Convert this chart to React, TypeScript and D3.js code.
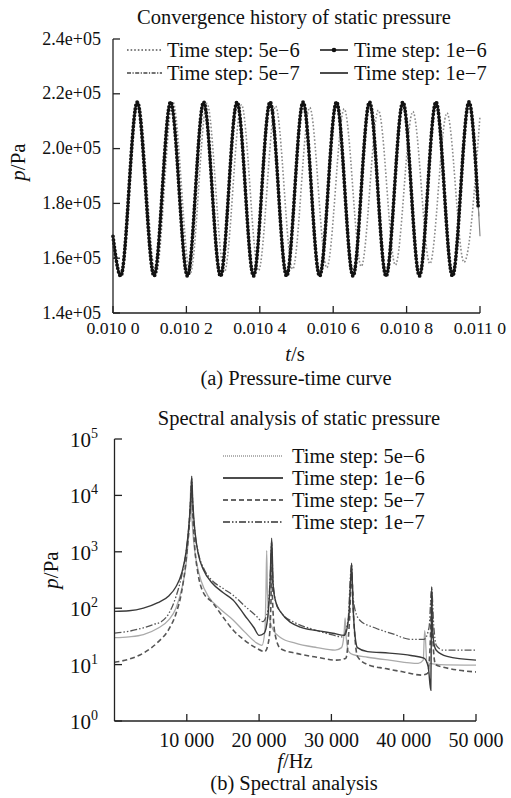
import React from 'react';
import * as d3 from 'd3';

// ---------- (a) Pressure-time curve data ----------
const T_DOMAIN = [0.0100, 0.0110];
const P_DOMAIN = [1.4e5, 2.4e5];
const T_TICKS = [0.0100, 0.0102, 0.0104, 0.0106, 0.0108, 0.0110];
const P_TICKS = [1.4e5, 1.6e5, 1.8e5, 2.0e5, 2.2e5, 2.4e5];

// time of start + successive troughs/peaks (1e-6, 5e-7, 1e-7 share these)
const T_FINE = [0.0100, 0.010021, 0.010066, 0.010112, 0.010157, 0.010203, 0.010247, 0.010293, 0.010338, 0.010383, 0.010428,
  0.010473, 0.010518, 0.010563, 0.010609, 0.010654, 0.010699, 0.010744, 0.010790, 0.010835, 0.010880, 0.010925, 0.010970];
const P_FINE = [1.68e5, 1.535e5, 2.17e5, 1.535e5, 2.17e5, 1.535e5, 2.17e5, 1.535e5, 2.17e5, 1.535e5, 2.17e5,
  1.535e5, 2.17e5, 1.535e5, 2.17e5, 1.535e5, 2.17e5, 1.535e5, 2.17e5, 1.535e5, 2.17e5, 1.535e5, 2.17e5];
const END_1E6 = [0.010995, 1.79e5];
const END_5E7 = [0.010997, 1.75e5];
const END_1E7 = [0.0110, 1.68e5];

// 5e-6: slightly longer period, damped amplitude
const T_5E6 = [0.0100, 0.0100225, 0.010069, 0.0101165, 0.010163, 0.0102105, 0.010256, 0.0103035, 0.01035, 0.0103965, 0.010443,
  0.0104895, 0.010536, 0.0105825, 0.01063, 0.0106765, 0.010723, 0.0107695, 0.010817, 0.0108635, 0.01091, 0.0109565, 0.0110];
const P_5E6 = [1.68e5, 1.535e5, 2.17e5, 1.54e5, 2.17e5, 1.545e5, 2.165e5, 1.55e5, 2.16e5, 1.555e5, 2.155e5,
  1.56e5, 2.15e5, 1.565e5, 2.145e5, 1.57e5, 2.14e5, 1.575e5, 2.135e5, 1.58e5, 2.13e5, 1.585e5, 2.12e5];

// ---------- (b) Spectral analysis data ----------
const F_DOMAIN = [0, 50000];
const A_DOMAIN = [1, 1e5];
const F_TICKS = [10000, 20000, 30000, 40000, 50000];
const A_EXPONENTS = [0, 1, 2, 3, 4, 5];

// 5e-6
const F_S1 = [0, 2000, 4000, 6000, 7500, 8500, 9300, 9900, 10250, 10450, 10550, 10650, 10900, 11400, 12000, 13000, 14500, 16400, 18000, 19700, 20400, 20800, 20950, 21050, 21150, 21400, 22000, 23000, 25000, 28000, 30500, 31400, 31750, 31900, 32050, 32400, 33000, 35000, 38000, 42000, 42700, 42900, 43000, 43200, 43600, 45000, 50000];
const A_S1 = [30, 31, 34, 44, 62, 100, 220, 600, 2000, 6000, 15000, 6000, 1800, 600, 300, 160, 100, 62, 38, 24, 22, 40, 200, 1050, 200, 70, 40, 30, 24, 20, 18, 20, 35, 67, 30, 17, 15, 13.5, 12, 10.5, 12, 40, 30, 11, 10.5, 10, 9.8];

// 1e-6
const F_S2 = [0, 2000, 4000, 6000, 7500, 8500, 9300, 9900, 10300, 10550, 10680, 10820, 11100, 11600, 12300, 13500, 15000, 16400, 18000, 19300, 20000, 20700, 21200, 21500, 21740, 21950, 22300, 23000, 25700, 28000, 30200, 31800, 32400, 32650, 32800, 32950, 33200, 33600, 35000, 38000, 41000, 42800, 43400, 43750, 43820, 43870, 43950, 44150, 44500, 46000, 50000];
const A_S2 = [88, 90, 100, 125, 165, 240, 420, 1000, 3000, 9000, 22000, 8000, 2500, 900, 480, 280, 190, 140, 75, 45, 33, 36, 70, 250, 1750, 250, 130, 85, 46, 40, 36, 33, 70, 300, 630, 150, 40, 20, 17, 16, 14.5, 13, 9, 3.5, 40, 240, 60, 25, 18, 14, 12];

// 5e-7
const F_S3 = [0, 2000, 4000, 6000, 7500, 8500, 9300, 9900, 10300, 10550, 10680, 10820, 11100, 11500, 12200, 13600, 15000, 16400, 18000, 19500, 20800, 21400, 21650, 21740, 21850, 22200, 23000, 25000, 28000, 30700, 32000, 32500, 32800, 33100, 33600, 35000, 37500, 40000, 42500, 43300, 43700, 43870, 44050, 44400, 45500, 47500, 50000];
const A_S3 = [11, 12.5, 16, 25, 42, 80, 200, 700, 2500, 8000, 15000, 5000, 1200, 450, 200, 124, 70, 41, 27, 20, 17, 30, 150, 1200, 150, 35, 19, 16, 13.5, 12, 13, 60, 400, 60, 14, 10, 8.5, 7.4, 6.5, 7, 30, 200, 25, 10, 9, 8, 7.4];

// 1e-7
const F_S4 = [0, 2000, 4000, 5500, 6500, 7500, 8500, 9300, 9900, 10300, 10550, 10680, 10820, 11100, 11600, 12300, 13500, 15000, 16400, 18000, 19500, 20500, 21200, 21550, 21740, 21900, 22300, 23000, 25000, 27500, 30000, 31500, 32300, 32650, 32800, 32950, 33300, 34000, 36000, 38500, 41000, 42800, 43500, 43870, 44150, 44500, 45500, 50000];
const A_S4 = [36, 39, 45, 52, 58, 80, 160, 380, 1000, 3000, 10000, 20000, 7000, 2400, 950, 520, 310, 225, 170, 110, 75, 58, 90, 400, 1500, 350, 130, 85, 55, 42, 34, 31, 60, 400, 600, 200, 90, 60, 45, 35, 28, 28, 45, 220, 50, 22, 18, 18];

const SERIES_LABELS = ['Time step: 5e\u22126', 'Time step: 1e\u22126', 'Time step: 5e\u22127', 'Time step: 1e\u22127'];
const TITLE_A = 'Convergence history of static pressure';
const TITLE_B = 'Spectral analysis of static pressure';
const CAPTION_A = '(a) Pressure-time curve';
const CAPTION_B = '(b) Spectral analysis';

const FONT = '"Liberation Serif", "Times New Roman", Times, serif';

function zip(xs: number[], ys: number[]): [number, number][] {
  return xs.map((x, i) => [x, ys[i]] as [number, number]);
}

export default function App() {
  // ----- chart (a) -----
  const xA = d3.scaleLinear().domain(T_DOMAIN).range([113, 480]);
  const yA = d3.scaleLinear().domain(P_DOMAIN).range([313, 39]);
  const lineA = d3.line<[number, number]>().x(d => xA(d[0])).y(d => yA(d[1])).curve(d3.curveMonotoneX);

  const s5e6 = lineA(zip(T_5E6, P_5E6)) || '';
  const s1e6 = lineA([...zip(T_FINE, P_FINE), END_1E6 as [number, number]]) || '';
  const s5e7 = lineA([...zip(T_FINE, P_FINE), END_5E7 as [number, number]]) || '';
  const s1e7 = lineA([...zip(T_FINE, P_FINE), END_1E7 as [number, number]]) || '';

  const fmtT = (v: number) => { const s = d3.format('.4f')(v); return s.slice(0, -1) + ' ' + s.slice(-1); };
  const fmtP = (v: number) => { const e = Math.floor(Math.log10(v)); const m = v / Math.pow(10, e); return m.toFixed(1) + 'e+' + String(e).padStart(2, '0'); };

  // ----- chart (b) -----
  const xB = d3.scaleLinear().domain(F_DOMAIN).range([114.5, 476]);
  const yB = d3.scaleLog().domain(A_DOMAIN).range([721, 439]);
  const lineB = d3.line<[number, number]>().x(d => xB(d[0])).y(d => yB(d[1])).curve(d3.curveMonotoneX);
  const b1 = lineB(zip(F_S1, A_S1)) || '';
  const b2 = lineB(zip(F_S2, A_S2)) || '';
  const b3 = lineB(zip(F_S3, A_S3)) || '';
  const b4 = lineB(zip(F_S4, A_S4)) || '';

  const axisColor = '#222';

  return (
    <svg width={511} height={798} style={{ position: 'absolute', left: 0, top: 0, background: '#fff', fontFamily: FONT }} fontFamily={FONT}>
      <rect x={0} y={0} width={511} height={798} fill="#fff" />
      {/* ================= (a) ================= */}
      <text x={294} y={24} fontSize={20.5} textAnchor="middle" fill="#111">{TITLE_A}</text>
      {/* curves */}
      <path d={s5e6} fill="none" stroke="#8a8a8a" strokeWidth={1.6} strokeDasharray="1.6 2" />
      <path d={s5e7} fill="none" stroke="#777" strokeWidth={1.2} strokeDasharray="5 2 1.5 2" />
      <path d={s1e7} fill="none" stroke="#888" strokeWidth={1.2} />
      <path d={s1e6} fill="none" stroke="#111" strokeWidth={1.5} />
      <path d={s1e6} fill="none" stroke="#111" strokeWidth={3.8} strokeDasharray="0 3.6" strokeLinecap="round" />
      {/* axes */}
      <line x1={113} x2={113} y1={yA(P_DOMAIN[1])} y2={yA(P_DOMAIN[0])} stroke={axisColor} strokeWidth={1.3} />
      <line x1={113} x2={480} y1={313} y2={313} stroke={axisColor} strokeWidth={1.3} />
      {P_TICKS.map(v => (
        <g key={'pa' + v}>
          <line x1={113} x2={120} y1={yA(v)} y2={yA(v)} stroke={axisColor} strokeWidth={1.3} />
          <text x={101} y={yA(v) + 5.5} fontSize={18} textAnchor="end" fill="#111">{fmtP(v)}</text>
        </g>
      ))}
      {T_TICKS.map(v => (
        <g key={'ta' + v}>
          <line x1={xA(v)} x2={xA(v)} y1={313} y2={306} stroke={axisColor} strokeWidth={1.3} />
          <text x={xA(v)} y={334} fontSize={17.7} textAnchor="middle" fill="#111">{fmtT(v)}</text>
        </g>
      ))}
      <text x={295} y={361} fontSize={20.5} textAnchor="middle" fill="#111"><tspan fontStyle="italic">t</tspan>/s</text>
      <text x={296} y={385} fontSize={20.5} textAnchor="middle" fill="#111">{CAPTION_A}</text>
      <text transform="translate(25,162) rotate(-90)" fontSize={21} textAnchor="middle" fill="#111"><tspan fontStyle="italic">p</tspan>/Pa</text>
      {/* legend (a) */}
      <g fontSize={20.5} fill="#111">
        <line x1={127} x2={162} y1={50} y2={50} stroke="#555" strokeWidth={1.5} strokeDasharray="1.6 2" />
        <text x={167} y={57}>{SERIES_LABELS[0]}</text>
        <line x1={127} x2={162} y1={73} y2={73} stroke="#444" strokeWidth={1.3} strokeDasharray="4 1.5 1.2 1.5" />
        <text x={167} y={80}>{SERIES_LABELS[2]}</text>
        <line x1={320} x2={348} y1={50} y2={50} stroke="#111" strokeWidth={1.5} />
        <circle cx={334} cy={50} r={2.3} fill="#111" />
        <text x={354} y={57}>{SERIES_LABELS[1]}</text>
        <line x1={320} x2={348} y1={73} y2={73} stroke="#111" strokeWidth={1.5} />
        <text x={354} y={80}>{SERIES_LABELS[3]}</text>
      </g>

      {/* ================= (b) ================= */}
      <text x={299} y={425} fontSize={20.5} textAnchor="middle" fill="#111">{TITLE_B}</text>
      <path d={b1} fill="none" stroke="#aaa" strokeWidth={1.3} />
      <path d={b3} fill="none" stroke="#555" strokeWidth={1.6} strokeDasharray="5 3" />
      <path d={b4} fill="none" stroke="#555" strokeWidth={1.3} strokeDasharray="7 2 1.5 2 1.5 2" />
      <path d={b2} fill="none" stroke="#3a3a3a" strokeWidth={1.4} />
      <line x1={114.5} x2={114.5} y1={439} y2={721} stroke={axisColor} strokeWidth={1.3} />
      <line x1={114.5} x2={476} y1={721} y2={721} stroke={axisColor} strokeWidth={1.3} />
      {A_EXPONENTS.map(e => (
        <g key={'ab' + e}>
          <line x1={114.5} x2={122} y1={yB(Math.pow(10, e))} y2={yB(Math.pow(10, e))} stroke={axisColor} strokeWidth={1.3} />
          <text x={91} y={yB(Math.pow(10, e)) + 8} fontSize={21} textAnchor="end" fill="#111">10</text>
          <text x={91} y={yB(Math.pow(10, e)) - 1} fontSize={14} textAnchor="start" fill="#111">{e}</text>
        </g>
      ))}
      {F_TICKS.map(v => (
        <g key={'fb' + v}>
          <line x1={xB(v)} x2={xB(v)} y1={721} y2={714} stroke={axisColor} strokeWidth={1.3} />
          <text x={xB(v)} y={747} fontSize={20} textAnchor="middle" fill="#111">{d3.format(',')(v).replace(',', ' ')}</text>
        </g>
      ))}
      <text x={295} y={768} fontSize={20.5} textAnchor="middle" fill="#111"><tspan fontStyle="italic">f</tspan>/Hz</text>
      <text x={294} y={790} fontSize={20.5} textAnchor="middle" fill="#111">{CAPTION_B}</text>
      <text transform="translate(58,570) rotate(-90)" fontSize={21} textAnchor="middle" fill="#111"><tspan fontStyle="italic">p</tspan>/Pa</text>
      {/* legend (b) */}
      <g fontSize={20.5} fill="#111">
        <line x1={223} x2={283} y1={456} y2={456} stroke="#666" strokeWidth={1.2} strokeDasharray="1 1" />
        <text x={292} y={463}>{SERIES_LABELS[0]}</text>
        <line x1={223} x2={283} y1={478} y2={478} stroke="#111" strokeWidth={1.5} />
        <text x={292} y={485}>{SERIES_LABELS[1]}</text>
        <line x1={223} x2={283} y1={500} y2={500} stroke="#333" strokeWidth={1.5} strokeDasharray="5 3" />
        <text x={292} y={507}>{SERIES_LABELS[2]}</text>
        <line x1={223} x2={283} y1={522} y2={522} stroke="#333" strokeWidth={1.3} strokeDasharray="7 2 1.5 2 1.5 2" />
        <text x={292} y={529}>{SERIES_LABELS[3]}</text>
      </g>
    </svg>
  );
}
